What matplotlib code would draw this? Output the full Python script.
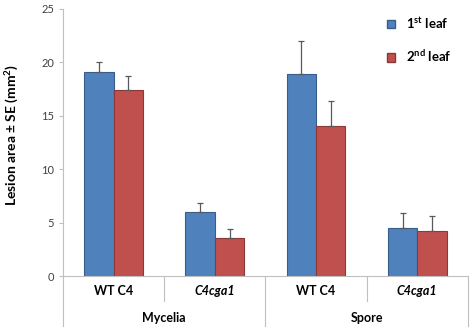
import matplotlib
matplotlib.use("Agg")
import matplotlib.pyplot as plt
import numpy as np
from matplotlib.patches import Patch

plt.rcParams['font.family'] = ['Lato', 'DejaVu Sans']
plt.rcParams['mathtext.fontset'] = 'custom'
plt.rcParams['mathtext.rm'] = 'Lato:bold'
plt.rcParams['mathtext.bf'] = 'Lato:bold'
plt.rcParams['mathtext.default'] = 'bf'

strains = ['WT C4', 'C4cga1', 'WT C4', 'C4cga1']
groups = ['Mycelia', 'Spore']
leaf1 = [19.1, 6.0, 18.9, 4.5]
leaf1_se = [0.9, 0.8, 3.1, 1.4]
leaf2 = [17.4, 3.6, 14.0, 4.2]
leaf2_se = [1.3, 0.8, 2.4, 1.4]

blue = '#4F81BD'
red = '#C0504D'
gray = '#BFBFBF'

fig = plt.figure(figsize=(4.74, 3.31), dpi=100)
ax = fig.add_axes([0.133, 0.166, 0.854, 0.807])

x = np.arange(len(strains))
w = 0.29
ax.bar(x - w / 2, leaf1, w, color=blue, edgecolor='#385D8A', linewidth=0.8,
       yerr=[np.zeros(4), leaf1_se], error_kw=dict(ecolor='#595959', elinewidth=0.9, capsize=2.5, capthick=0.9))
ax.bar(x + w / 2, leaf2, w, color=red, edgecolor='#8C3836', linewidth=0.8,
       yerr=[np.zeros(4), leaf2_se], error_kw=dict(ecolor='#595959', elinewidth=0.9, capsize=2.5, capthick=0.9))

ax.set_xlim(-0.5, 3.5)
ax.set_ylim(0, 25)
ax.set_yticks([0, 5, 10, 15, 20, 25])
ax.tick_params(axis='y', labelsize=8, labelcolor='#404040', color=gray, length=3)
ax.set_xticks([])
for s in ['top', 'right']:
    ax.spines[s].set_visible(False)
ax.spines['left'].set_color(gray)
ax.spines['bottom'].set_color(gray)

# category labels
trans = ax.get_xaxis_transform()
for i, lab in enumerate(strains):
    style = 'italic' if 'cga' in lab else 'normal'
    ax.text(x[i], -0.055, lab, transform=trans, ha='center', va='center',
            fontsize=9, fontweight='bold', fontstyle=style)
for j, g in enumerate(groups):
    ax.text(2 * j + 0.5, -0.157, g, transform=trans, ha='center', va='center',
            fontsize=9, fontweight='bold')

# divider lines under the axis
for b in [-0.5, 0.5, 1.5, 2.5, 3.5]:
    depth = -0.094 if b in (0.5, 2.5) else -0.187
    ax.plot([b, b], [0, depth], transform=trans, color=gray, lw=0.8, clip_on=False)

ax.set_ylabel('Lesion area ± SE (mm$^{2}$)', fontsize=10, fontweight='bold')
ax.yaxis.set_label_coords(-0.105, 0.53)

handles = [Patch(facecolor=blue, edgecolor='#385D8A'), Patch(facecolor=red, edgecolor='#8C3836')]
ax.legend(handles, ['1$^{st}$ leaf', '2$^{nd}$ leaf'], loc='upper left',
          bbox_to_anchor=(0.77, 1.02), frameon=False, prop={'weight': 'bold', 'size': 9.5},
          labelspacing=1.3, handlelength=0.6, handleheight=0.6, handletextpad=0.9)

fig.savefig('out.png', dpi=100)
